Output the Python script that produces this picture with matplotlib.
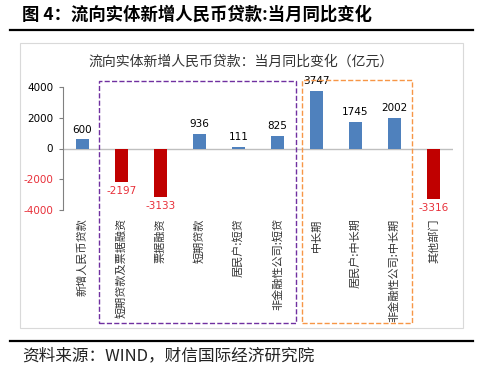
import matplotlib.pyplot as plt
from matplotlib.patches import Rectangle
from matplotlib.lines import Line2D

plt.rcParams['font.family'] = ['Noto Sans CJK SC', 'DejaVu Sans']

# data
categories = ['新增人民币贷款', '短期贷款及票据融资', '票据融资', '短期贷款', '居民户:短贷',
              '非金融性公司:短贷', '中长期', '居民户:中长期', '非金融性公司:中长期', '其他部门']
values = [600, -2197, -3133, 936, 111, 825, 3747, 1745, 2002, -3316]
yticks = [-4000, -2000, 0, 2000, 4000]

W, H = 500, 380
fig = plt.figure(figsize=(5, 3.8), dpi=100)

def fx(px):
    return px / W

def fy(py):
    return 1 - py / H

# header and footer
fig.text(fx(22), fy(15), '图 4：流向实体新增人民币贷款:当月同比变化', fontsize=12.5,
         fontweight='bold', va='center', ha='left')
fig.add_artist(Line2D([fx(10), fx(473)], [fy(30), fy(30)], color='black', lw=1.6))
fig.add_artist(Line2D([fx(10), fx(473)], [fy(341), fy(341)], color='black', lw=1.6))
fig.text(fx(22), fy(356), '资料来源：WIND，财信国际经济研究院', fontsize=12,
         style='italic', va='center', ha='left', color='#222222')

# chart frame
fig.add_artist(Rectangle((fx(20), fy(328)), fx(443), 285 / H, fill=False,
                         edgecolor='#D9D9D9', lw=0.8, transform=fig.transFigure))
fig.text(fx(241), fy(62), '流向实体新增人民币贷款：当月同比变化（亿元）', fontsize=10,
         va='center', ha='center', color='#333333')

ax = fig.add_axes([fx(63), fy(210), fx(390), (210 - 87) / H])
x = list(range(len(categories)))
colors = ['#4F81BD' if v >= 0 else '#C00000' for v in values]
ax.bar(x, values, width=0.34, color=colors, zorder=3)
ax.axhline(0, color='#BFBFBF', lw=1, zorder=2)

for xi, v in zip(x, values):
    if v >= 0:
        ax.text(xi, v + 300, str(v), ha='center', va='bottom', fontsize=7.5,
                color='black', family='DejaVu Sans')
    else:
        ax.text(xi, v - 250, str(v), ha='center', va='top', fontsize=7.5,
                color='#E8303A', family='DejaVu Sans')

ax.set_xlim(-0.5, len(categories) - 0.5)
ax.set_ylim(-4000, 4000)
ax.set_yticks(yticks)
ax.set_yticklabels([str(t) for t in yticks], fontsize=7.5, family='DejaVu Sans')
for lab, t in zip(ax.get_yticklabels(), yticks):
    lab.set_color('#E8303A' if t < 0 else 'black')
ax.set_xticks(x)
ax.set_xticklabels(categories, rotation=90, fontsize=8, va='top', color='#333333')
ax.tick_params(axis='x', length=0, pad=6)
ax.tick_params(axis='y', length=3, color='#808080', direction='out', pad=4)
for s in ['top', 'right', 'bottom']:
    ax.spines[s].set_visible(False)
ax.spines['left'].set_color('#808080')
ax.patch.set_visible(False)

# group boxes
fig.add_artist(Rectangle((fx(99), fy(323)), fx(197), 242 / H, fill=False,
                         edgecolor='#7030A0', lw=1, ls='--', transform=fig.transFigure))
fig.add_artist(Rectangle((fx(302), fy(323)), fx(110), 243 / H, fill=False,
                         edgecolor='#F79646', lw=1, ls='--', transform=fig.transFigure))

fig.savefig('out.png', dpi=100)
